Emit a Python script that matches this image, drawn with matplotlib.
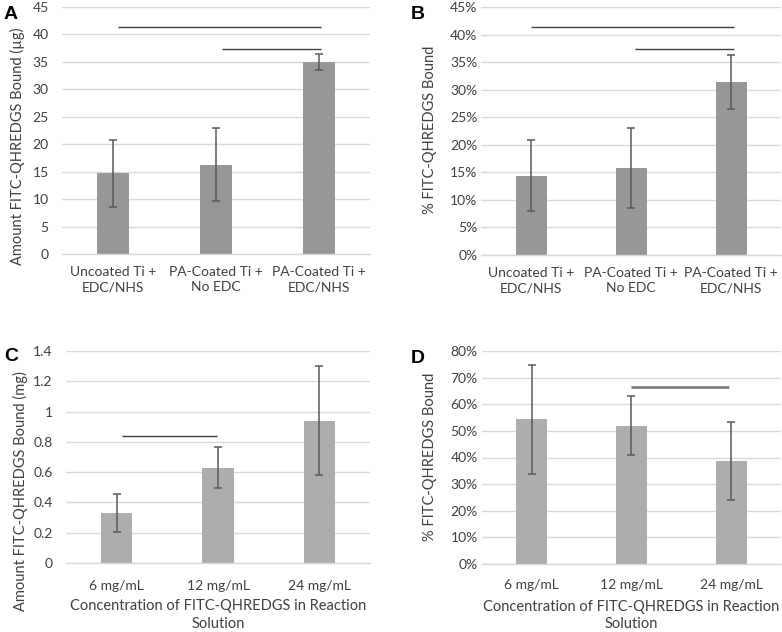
import matplotlib
matplotlib.use("Agg")
import matplotlib.pyplot as plt
from matplotlib.ticker import FuncFormatter, MultipleLocator

plt.rcParams['font.family'] = ['Lato', 'DejaVu Sans']

# ---------------- data ----------------
cat_ab = ["Uncoated Ti +\nEDC/NHS", "PA-Coated Ti +\nNo EDC", "PA-Coated Ti +\nEDC/NHS"]
cat_cd = ["6 mg/mL", "12 mg/mL", "24 mg/mL"]

a_vals = [14.7, 16.3, 35.0]
a_err = [6.1, 6.7, 1.5]
b_vals = [14.4, 15.8, 31.4]
b_err = [6.4, 7.2, 4.85]
c_vals = [0.33, 0.63, 0.94]
c_err = [0.123, 0.135, 0.358]
d_vals = [54.3, 52.0, 38.8]
d_err = [20.4, 11.1, 14.7]

# significance bars: (x_start, x_end, y)
a_sig = [(0.05, 2.02, 41.4), (1.06, 2.02, 37.3)]
b_sig = [(0.0, 2.03, 41.3), (1.04, 2.03, 37.3)]
c_sig = [(0.05, 0.99, 0.837)]
d_sig = [(1.0, 1.98, 66.6)]

a_ylabel = "Amount FITC-QHREDGS Bound (\u00b5g)"
b_ylabel = "% FITC-QHREDGS Bound"
c_ylabel = "Amount FITC-QHREDGS Bound (mg)"
d_ylabel = "% FITC-QHREDGS Bound"
cd_xlabel = "Concentration of FITC-QHREDGS in Reaction\nSolution"

W, H = 782, 632
fig = plt.figure(figsize=(W / 100, H / 100), dpi=100)
fig.patch.set_facecolor("white")


def px_axes(left, top, right, bottom):
    return fig.add_axes([left / W, 1 - bottom / H, (right - left) / W, (bottom - top) / H])


GRID = "#d9d9d9"
ERR = "#595959"
TXT = "#404040"


def style(ax, cats, vals, errs, color, ymax, step, fmt, ypad, xpad, sig, sig_color, sig_lw):
    x = list(range(len(cats)))
    ax.bar(x, vals, width=0.31, color=color, zorder=2)
    ax.errorbar(x, vals, yerr=errs, fmt="none", ecolor=ERR, elinewidth=1.1,
                capsize=3, capthick=1.1, zorder=3)
    for (x0, x1, y) in sig:
        ax.plot([x0, x1], [y, y], color=sig_color, lw=sig_lw, solid_capstyle="butt", zorder=3)
    ax.set_xlim(-0.5, len(cats) - 0.5)
    ax.set_ylim(0, ymax)
    ax.yaxis.set_major_locator(MultipleLocator(step))
    ax.yaxis.set_major_formatter(FuncFormatter(fmt))
    ax.grid(axis="y", color=GRID, lw=1, zorder=0)
    ax.set_axisbelow(True)
    for s in ["top", "right", "left"]:
        ax.spines[s].set_visible(False)
    ax.spines["bottom"].set_color(GRID)
    ax.spines["bottom"].set_linewidth(1)
    ax.set_xticks(x)
    ax.set_xticklabels(cats, linespacing=1.3)
    ax.tick_params(axis="both", length=0, labelsize=10)
    ax.tick_params(axis="y", pad=ypad, labelcolor=TXT)
    ax.tick_params(axis="x", pad=xpad, labelcolor=TXT)
    ax.set_facecolor("white")


fmt_int = lambda v, p: f"{v:.0f}"
fmt_pct = lambda v, p: f"{v:.0f}%"
fmt_gen = lambda v, p: f"{round(v, 2):g}"

axA = px_axes(62, 7, 370, 254)
style(axA, cat_ab, a_vals, a_err, "#979797", 45, 5, fmt_int, 9.5, 9, a_sig, "#404040", 1.0)
axB = px_axes(481, 7, 781, 255)
style(axB, cat_ab, b_vals, b_err, "#979797", 45, 5, fmt_pct, 2.5, 9, b_sig, "#404040", 1.0)
axC = px_axes(66, 351, 370, 563)
style(axC, cat_cd, c_vals, c_err, "#adadad", 1.4, 0.2, fmt_gen, 9.5, 12, c_sig, "#404040", 1.0)
axD = px_axes(482, 351, 781, 564)
style(axD, cat_cd, d_vals, d_err, "#adadad", 80, 10, fmt_pct, 3, 11, d_sig, "#7f7f7f", 2.0)

LABEL_FS = 10.5
for ax, lab, xc, yc in [(axA, a_ylabel, -0.146, 0.435),
                        (axB, b_ylabel, -0.17, 0.504),
                        (axC, c_ylabel, -0.150, 0.337),
                        (axD, d_ylabel, -0.174, 0.503)]:
    ax.set_ylabel(lab, fontsize=LABEL_FS, color=TXT, va="center")
    ax.yaxis.set_label_coords(xc, yc)

for ax, yc in [(axC, -0.245), (axD, -0.241)]:
    ax.set_xlabel(cd_xlabel, fontsize=LABEL_FS, color=TXT, va="center", linespacing=1.3)
    ax.xaxis.set_label_coords(0.5, yc)

for letter, xp, yp in [("A", 4, 6), ("B", 411, 6), ("C", 4, 348), ("D", 411, 350)]:
    fig.text(xp / W, 1 - yp / H, letter, fontsize=14, fontweight="bold",
             family=["Liberation Sans", "DejaVu Sans"], ha="left", va="top", color="black")

fig.savefig("out.png", dpi=100, facecolor="white")
